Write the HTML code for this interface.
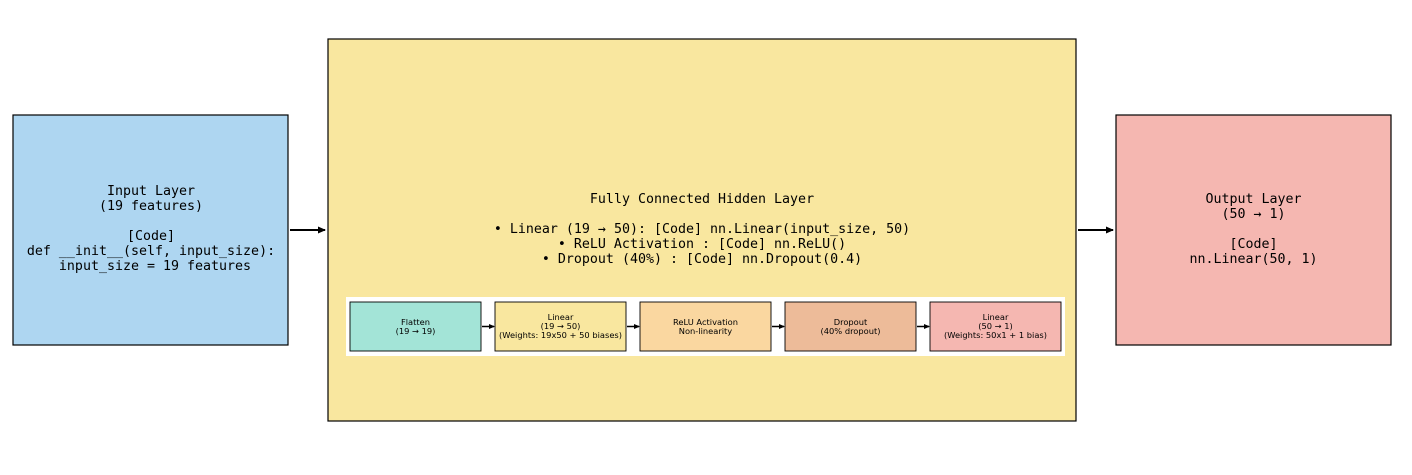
<!DOCTYPE html>
<html><head><meta charset="utf-8"><style>
html,body{margin:0;padding:0;background:#fff;}
svg text.m{font-family:"DejaVu Sans Mono","Liberation Mono",monospace;font-size:13.3px;fill:#000;text-anchor:middle;}
svg text.s{font-family:"DejaVu Sans","Liberation Sans",sans-serif;font-size:8.3px;fill:#000;text-anchor:middle;}
</style></head><body>
<svg width="1412" height="470" viewBox="0 0 1412 470" xmlns="http://www.w3.org/2000/svg">
<defs><marker id="a" markerWidth="8" markerHeight="8" refX="7" refY="4" orient="auto" markerUnits="userSpaceOnUse"><path d="M0,0.5 L8,4 L0,7.5 z" fill="#000"/></marker>
<marker id="b" markerWidth="6" markerHeight="6" refX="5" refY="3" orient="auto" markerUnits="userSpaceOnUse"><path d="M0,0.5 L6,3 L0,5.5 z" fill="#000"/></marker></defs>
<rect x="13" y="115" width="275" height="230" fill="#AED6F1" stroke="#000" stroke-width="1.2"/>
<text class="m" x="151" y="195">Input Layer</text>
<text class="m" x="151" y="210">(19 features)</text>
<text class="m" x="151" y="240">[Code]</text>
<text class="m" x="151" y="255">def __init__(self, input_size):</text>
<text class="m" x="155" y="270">input_size = 19 features</text>
<rect x="328" y="39" width="748" height="382" fill="#F9E79F" stroke="#000" stroke-width="1.2"/>
<text class="m" x="702" y="203">Fully Connected Hidden Layer</text>
<text class="m" x="702" y="233">• Linear (19 → 50): [Code] nn.Linear(input_size, 50)</text>
<text class="m" x="702" y="248">• ReLU Activation : [Code] nn.ReLU()</text>
<text class="m" x="702" y="263">• Dropout (40%) : [Code] nn.Dropout(0.4)</text>
<rect x="346" y="297" width="719" height="59" fill="#fff"/>
<rect x="350" y="302" width="131" height="49" fill="#A3E4D7" stroke="#000" stroke-width="0.9"/>
<text class="s" x="415.5" y="325">Flatten</text><text class="s" x="415.5" y="334">(19 → 19)</text>
<rect x="495" y="302" width="131" height="49" fill="#F9E79F" stroke="#000" stroke-width="0.9"/>
<text class="s" x="560.5" y="320">Linear</text><text class="s" x="560.5" y="329">(19 → 50)</text><text class="s" x="560.5" y="338">(Weights: 19x50 + 50 biases)</text>
<rect x="640" y="302" width="131" height="49" fill="#FAD7A0" stroke="#000" stroke-width="0.9"/>
<text class="s" x="705.5" y="325">ReLU Activation</text><text class="s" x="705.5" y="334">Non-linearity</text>
<rect x="785" y="302" width="131" height="49" fill="#EDBB99" stroke="#000" stroke-width="0.9"/>
<text class="s" x="850.5" y="325">Dropout</text><text class="s" x="850.5" y="334">(40% dropout)</text>
<rect x="930" y="302" width="131" height="49" fill="#F5B7B1" stroke="#000" stroke-width="0.9"/>
<text class="s" x="995.5" y="320">Linear</text><text class="s" x="995.5" y="329">(50 → 1)</text><text class="s" x="995.5" y="338">(Weights: 50x1 + 1 bias)</text>
<g stroke="#000" stroke-width="1.5">
<line x1="482" y1="326.5" x2="494" y2="326.5" marker-end="url(#b)"/>
<line x1="627" y1="326.5" x2="639" y2="326.5" marker-end="url(#b)"/>
<line x1="772" y1="326.5" x2="784" y2="326.5" marker-end="url(#b)"/>
<line x1="917" y1="326.5" x2="929" y2="326.5" marker-end="url(#b)"/>
<line x1="290" y1="230" x2="325" y2="230" stroke-width="2" marker-end="url(#a)"/>
<line x1="1078" y1="230" x2="1113" y2="230" stroke-width="2" marker-end="url(#a)"/>
</g>
<rect x="1116" y="115" width="275" height="230" fill="#F5B7B1" stroke="#000" stroke-width="1.2"/>
<text class="m" x="1253.5" y="203">Output Layer</text>
<text class="m" x="1253.5" y="218">(50 → 1)</text>
<text class="m" x="1253.5" y="248">[Code]</text>
<text class="m" x="1253.5" y="263">nn.Linear(50, 1)</text>
</svg>
</body></html>
